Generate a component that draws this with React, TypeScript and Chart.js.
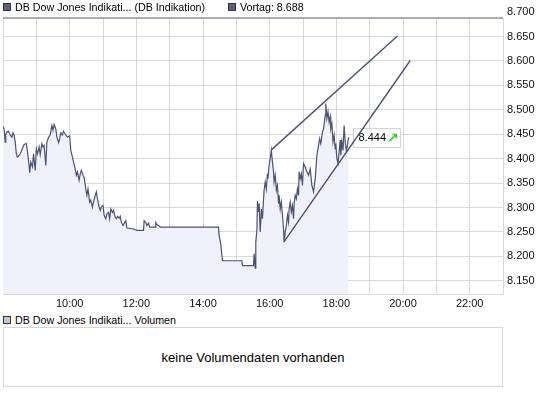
import React, { useEffect, useRef } from 'react';
import { Chart, registerables } from 'chart.js';

Chart.register(...registerables);

// ---- data ----
const times = [
  '08:00','08:02','08:04','08:05','08:07','08:10','08:13','08:16','08:18','08:20',
  '08:22','08:24','08:26','08:30','08:33','08:36','08:38','08:42','08:44','08:47',
  '08:48','08:50','08:53','08:55','08:58','09:00','09:02','09:05','09:07','09:10',
  '09:12','09:14','09:17','09:19','09:22','09:25','09:28','09:30','09:32','09:35',
  '09:37','09:40','09:42','09:44','09:47','09:49','09:53','09:56','10:00','10:02',
  '10:05','10:07','10:10','10:12','10:14','10:17','10:19','10:21','10:24','10:26',
  '10:29','10:31','10:33','10:36','10:38','10:41','10:43','10:46','10:48','10:50',
  '10:53','10:55','10:57','11:00','11:02','11:05','11:07','11:10','11:12','11:14',
  '11:17','11:19','11:22','11:24','11:26','11:29','11:31','11:33','11:36','11:38',
  '11:41','11:43','11:55','12:01','12:13','12:14','12:17','12:19','12:22','12:24',
  '12:34','12:35','12:37','12:40','12:43','14:28','14:29','14:32','14:35','15:10',
  '15:11','15:31','15:32','15:34','15:35','15:37','15:38','15:40','15:41','15:43',
  '15:45','15:47','15:49','15:50','15:52','15:54','15:56','15:57','15:59','16:01',
  '16:03','16:05','16:07','16:08','16:10','16:12','16:14','16:16','16:17','16:19',
  '16:21','16:23','16:25','16:26','16:28','16:30','16:32','16:34','16:35','16:37',
  '16:39','16:41','16:43','16:44','16:46','16:48','16:50','16:52','16:53','16:55',
  '16:57','16:59','17:01','17:04','17:07','17:10','17:13','17:16','17:19','17:22',
  '17:25','17:28','17:30','17:32','17:35','17:37','17:40','17:41','17:43','17:45',
  '17:47','17:49','17:50','17:52','17:54','17:56','17:58','17:59','18:01','18:03',
  '18:05','18:07','18:08','18:10','18:12','18:14','18:16','18:18','18:20','18:22'
];
const values = [
  8.466,8.461,8.434,8.449,8.455,8.456,8.448,8.444,8.453,8.448,
  8.434,8.410,8.403,8.408,8.415,8.424,8.429,8.431,8.415,8.386,
  8.371,8.393,8.383,8.410,8.376,8.420,8.410,8.424,8.408,8.431,
  8.424,8.427,8.386,8.434,8.444,8.449,8.468,8.458,8.470,8.461,
  8.444,8.433,8.441,8.453,8.448,8.456,8.448,8.444,8.447,8.417,
  8.403,8.393,8.379,8.366,8.373,8.356,8.369,8.376,8.366,8.362,
  8.338,8.325,8.338,8.311,8.315,8.301,8.311,8.325,8.332,8.318,
  8.301,8.294,8.301,8.304,8.284,8.277,8.287,8.290,8.277,8.297,
  8.290,8.294,8.280,8.277,8.282,8.278,8.282,8.270,8.263,8.267,
  8.273,8.258,8.256,8.253,8.253,8.273,8.269,8.263,8.268,8.260,
  8.260,8.269,8.265,8.263,8.260,8.260,8.243,8.225,8.191,8.191,
  8.181,8.181,8.205,8.176,8.229,8.253,8.313,8.291,8.308,8.250,
  8.297,8.277,8.318,8.335,8.352,8.338,8.369,8.359,8.386,8.400,
  8.417,8.393,8.373,8.352,8.366,8.335,8.345,8.308,8.325,8.297,
  8.311,8.284,8.256,8.229,8.250,8.263,8.284,8.270,8.297,8.311,
  8.291,8.304,8.277,8.308,8.325,8.318,8.338,8.325,8.373,8.359,
  8.369,8.345,8.390,8.383,8.373,8.366,8.379,8.345,8.332,8.359,
  8.407,8.427,8.441,8.431,8.455,8.461,8.489,8.513,8.482,8.496,
  8.475,8.486,8.461,8.471,8.434,8.448,8.420,8.431,8.400,8.390,
  8.414,8.438,8.407,8.434,8.417,8.468,8.434,8.417,8.427,8.444
];
const trendUpperTimes = ['16:03', '19:50'];
const trendUpperValues = [8.418, 8.651];
const trendLowerTimes = ['16:26', '20:13'];
const trendLowerValues = [8.230, 8.601];
const vortagValue = 8.688;
const lastValue = 8.444;
const yTickValues = [8.15, 8.2, 8.25, 8.3, 8.35, 8.4, 8.45, 8.5, 8.55, 8.6, 8.65, 8.7];
const xTickHours = [8, 9, 10, 11, 12, 13, 14, 15, 16, 17, 18, 19, 20, 21, 22, 23];
const xLabelHours = [10, 12, 14, 16, 18, 20, 22];
const seriesName = 'DB Dow Jones Indikati... (DB Indikation)';
const vortagName = 'Vortag: 8.688';
const volumeName = 'DB Dow Jones Indikati... Volumen';
const volumeMessage = 'keine Volumendaten vorhanden';

const FONT = '"Liberation Sans", Arial, sans-serif';
const LINE = '#4b5374';
const GRID = '#d9d9d9';

const toHours = (t: string) => {
  const [h, m] = t.split(':').map(Number);
  return h + m / 60;
};
const pts = (ts: string[], vs: number[]) => ts.map((t, i) => ({ x: toHours(t), y: vs[i] }));

const valueBoxPlugin = {
  id: 'valueBox',
  afterDatasetDraw(chart: any, args: any) {
    if (args.index !== 3) return;
    const meta = chart.getDatasetMeta(3);
    const last = meta.data[meta.data.length - 1];
    const ctx = chart.ctx;
    const x = Math.round(last.x + 4) + 0.5;
    const yc = chart.scales.y.getPixelForValue(lastValue);
    const h = 19, w = 47;
    const top = Math.round(yc - h / 2) + 0.5;
    ctx.save();
    ctx.fillStyle = '#ffffff';
    ctx.strokeStyle = '#d4d4d4';
    ctx.lineWidth = 1;
    ctx.fillRect(x, top, w, h);
    ctx.strokeRect(x, top, w, h);
    ctx.font = '11px ' + FONT;
    ctx.fillStyle = '#000';
    ctx.textBaseline = 'middle';
    ctx.textAlign = 'left';
    ctx.fillText(lastValue.toFixed(3), x + 5, yc + 0.5);
    // green up-right arrow icon
    const ax = x + 36, ay = yc + 4;
    ctx.strokeStyle = '#22dd22';
    ctx.fillStyle = '#22dd22';
    ctx.lineWidth = 1.6;
    ctx.beginPath();
    ctx.moveTo(ax, ay);
    ctx.lineTo(ax + 5, ay - 5);
    ctx.stroke();
    ctx.beginPath();
    ctx.moveTo(ax + 7.5, ay - 7.5);
    ctx.lineTo(ax + 7.5, ay - 2.5);
    ctx.lineTo(ax + 2.5, ay - 7.5);
    ctx.closePath();
    ctx.fill();
    ctx.restore();
  },
};

export default function App() {
  const ref = useRef<HTMLCanvasElement | null>(null);

  useEffect(() => {
    if (!ref.current) return;
    const chart = new Chart(ref.current, {
      type: 'line',
      data: {
        datasets: [
          {
            label: 'Trend oben',
            data: pts(trendUpperTimes, trendUpperValues),
            borderColor: LINE,
            borderWidth: 1.4,
            pointRadius: 0,
            fill: false,
          },
          {
            label: 'Trend unten',
            data: pts(trendLowerTimes, trendLowerValues),
            borderColor: LINE,
            borderWidth: 1.4,
            pointRadius: 0,
            fill: false,
          },
          {
            label: vortagName,
            data: [{ x: 8, y: vortagValue }, { x: 23, y: vortagValue }],
            borderColor: '#5a5a6c',
            borderWidth: 1,
            pointRadius: 0,
            fill: false,
            clip: 3,
          },
          {
            label: seriesName,
            data: pts(times, values),
            borderColor: LINE,
            borderWidth: 1.2,
            pointRadius: 0,
            tension: 0,
            fill: 'start',
            backgroundColor: '#f1f1fc',
          },
        ],
      },
      options: {
        responsive: false,
        animation: false,
        devicePixelRatio: 1,
        layout: { padding: { left: 3, top: 18, right: 0, bottom: 0 } },
        plugins: { legend: { display: false }, tooltip: { enabled: false } },
        scales: {
          x: {
            type: 'linear',
            min: 8,
            max: 23,
            bounds: 'data',
            afterBuildTicks: (scale: any) => {
              scale.ticks = xTickHours.map((v) => ({ value: v }));
            },
            afterFit: (scale: any) => {
              scale.height = 16;
            },
            grid: { color: GRID, drawTicks: false, lineWidth: 1 },
            border: { display: true, color: GRID },
            ticks: {
              autoSkip: false,
              maxRotation: 0,
              padding: 3,
              color: '#111',
              font: { family: FONT, size: 11 },
              callback: (v: any) => (xLabelHours.includes(Number(v)) ? `${v}:00` : ''),
            },
          },
          y: {
            type: 'linear',
            position: 'right',
            min: 8.1229,
            max: vortagValue,
            bounds: 'data',
            afterBuildTicks: (scale: any) => {
              scale.ticks = yTickValues.map((v) => ({ value: v }));
            },
            afterFit: (scale: any) => {
              scale.width = 42;
            },
            grid: {
              color: (c: any) => (c.tick && c.tick.value > vortagValue ? 'rgba(0,0,0,0)' : GRID),
              drawTicks: false,
              lineWidth: 1,
            },
            border: { display: true, color: GRID },
            ticks: {
              autoSkip: false,
              padding: 4,
              color: '#111',
              font: { family: FONT, size: 11 },
              callback: (v: any) => Number(v).toFixed(3),
            },
          },
        },
      },
      plugins: [valueBoxPlugin],
    } as any);
    return () => chart.destroy();
  }, []);

  const text: React.CSSProperties = {
    position: 'absolute',
    font: '10.7px ' + FONT,
    color: '#000',
    lineHeight: '14px',
    whiteSpace: 'nowrap',
  };
  const square = (left: number, top: number, bg: string): React.CSSProperties => ({
    position: 'absolute',
    left,
    top,
    width: 6,
    height: 6,
    border: '1px solid #333',
    background: bg,
  });

  return (
    <div style={{ position: 'absolute', left: 0, top: 0, width: 545, height: 397, background: '#fff' }}>
      <canvas ref={ref} width={545} height={310} style={{ position: 'absolute', left: 0, top: 0, display: 'block' }} />
      <div style={square(3, 3, '#5c6079')} />
      <div style={{ ...text, left: 15, top: 0 }}>{seriesName}</div>
      <div style={square(228, 3, '#5c6079')} />
      <div style={{ ...text, left: 240, top: 0 }}>{vortagName}</div>
      <div style={square(3, 316, '#c8c8c8')} />
      <div style={{ ...text, left: 15, top: 313 }}>{volumeName}</div>
      <div
        style={{
          position: 'absolute',
          left: 3,
          top: 327,
          width: 498,
          height: 58,
          border: '1px solid #d6d6d6',
          font: '13px ' + FONT,
          color: '#000',
          display: 'flex',
          alignItems: 'center',
          justifyContent: 'center',
        }}
      >
        {volumeMessage}
      </div>
    </div>
  );
}
